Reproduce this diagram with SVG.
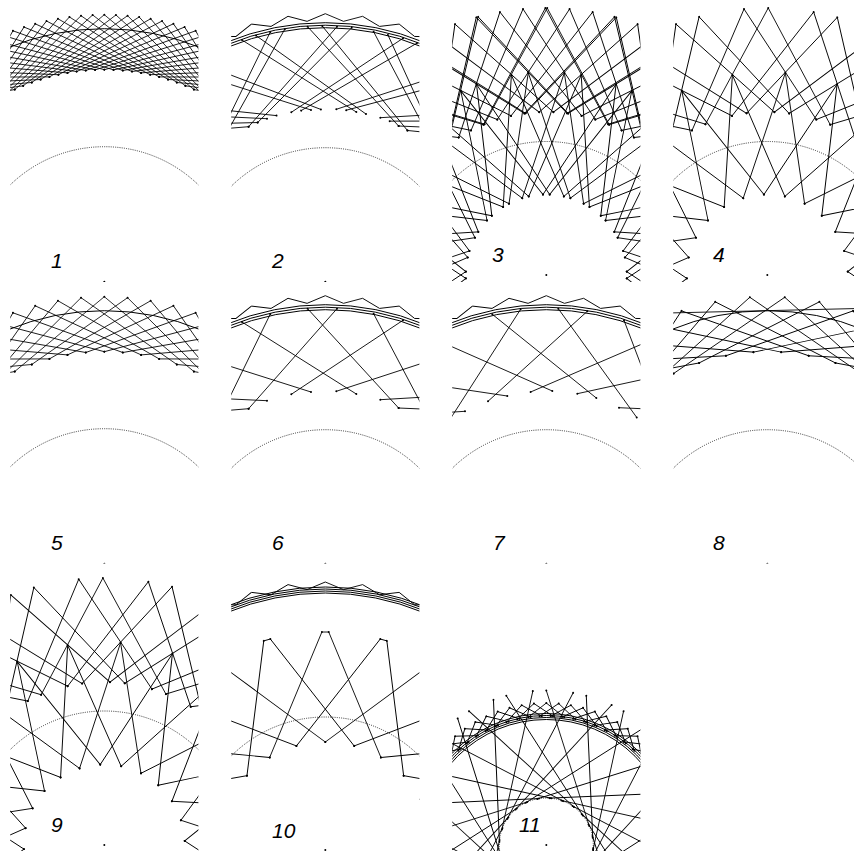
<svg xmlns="http://www.w3.org/2000/svg" width="854" height="851" viewBox="0 0 854 851">
<style>
.ln{fill:none;stroke:#000;stroke-width:0.9;stroke-linejoin:round}
.thin{stroke-width:0.8}
.mk{marker-start:url(#dot);marker-mid:url(#dot);marker-end:url(#dot)}
.band{fill:none;stroke:#000;stroke-width:1}
.dc{fill:none;stroke:#222;stroke-width:0.9;stroke-dasharray:1 1.2}
.lbl{font-family:"Liberation Sans",Arial,sans-serif;font-style:italic;font-size:21px;fill:#000}
.ctr{fill:#000}
</style>
<defs>
<marker id="dot" viewBox="-2 -2 4 4" markerWidth="4" markerHeight="4" markerUnits="userSpaceOnUse"><circle r="1" fill="#000"/></marker>
<clipPath id="c1"><rect x="10.2" y="0" width="188.2" height="282"/></clipPath>
<clipPath id="c2"><rect x="231.2" y="0" width="188.2" height="282"/></clipPath>
<clipPath id="c3"><rect x="452.2" y="0" width="188.2" height="282"/></clipPath>
<clipPath id="c4"><rect x="673.2" y="0" width="188.2" height="282"/></clipPath>
<clipPath id="c5"><rect x="10.2" y="282" width="188.2" height="281.5"/></clipPath>
<clipPath id="c6"><rect x="231.2" y="282" width="188.2" height="281.5"/></clipPath>
<clipPath id="c7"><rect x="452.2" y="282" width="188.2" height="281.5"/></clipPath>
<clipPath id="c8"><rect x="673.2" y="282" width="188.2" height="281.5"/></clipPath>
<clipPath id="c9"><rect x="10.2" y="563.5" width="188.2" height="288"/></clipPath>
<clipPath id="c10"><rect x="231.2" y="563.5" width="188.2" height="288"/></clipPath>
<clipPath id="c11"><rect x="452.2" y="563.5" width="188.2" height="288"/></clipPath>

<path id="uA" class="ln mk" d="M-62.38,-150.59L0,-267L62.38,-150.59"/>
<path id="uB" class="ln mk" d="M-30.81,-74.37L0,-203L30.81,-74.37"/>
<g id="star4">
<use href="#uA" transform="rotate(-65)"/><use href="#uA" transform="rotate(-59.8)"/>
<use href="#uA" transform="rotate(-50)"/><use href="#uA" transform="rotate(-44.8)"/>
<use href="#uA" transform="rotate(-35)"/><use href="#uA" transform="rotate(-29.8)"/>
<use href="#uA" transform="rotate(-20)"/><use href="#uA" transform="rotate(-14.8)"/>
<use href="#uA" transform="rotate(-5)"/><use href="#uA" transform="rotate(0.2)"/>
<use href="#uA" transform="rotate(10)"/><use href="#uA" transform="rotate(15.2)"/>
<use href="#uA" transform="rotate(25)"/><use href="#uA" transform="rotate(30.2)"/>
<use href="#uA" transform="rotate(40)"/><use href="#uA" transform="rotate(45.2)"/>
<use href="#uA" transform="rotate(55)"/><use href="#uA" transform="rotate(60.2)"/>
<use href="#uB" transform="rotate(-114.9)"/><use href="#uB" transform="rotate(-99.9)"/>
<use href="#uB" transform="rotate(-84.9)"/><use href="#uB" transform="rotate(-69.9)"/>
<use href="#uB" transform="rotate(-54.9)"/><use href="#uB" transform="rotate(-39.9)"/>
<use href="#uB" transform="rotate(-24.9)"/><use href="#uB" transform="rotate(-9.9)"/>
<use href="#uB" transform="rotate(5.1)"/><use href="#uB" transform="rotate(20.1)"/>
<use href="#uB" transform="rotate(35.1)"/><use href="#uB" transform="rotate(50.1)"/>
<use href="#uB" transform="rotate(65.1)"/><use href="#uB" transform="rotate(80.1)"/>
<use href="#uB" transform="rotate(95.1)"/><use href="#uB" transform="rotate(110.1)"/>
<use href="#uB" transform="rotate(125.1)"/>
</g>

<path id="v25" class="ln thin mk" d="M-89.6,-192.14L0,-267L89.6,-192.14"/>
<path id="v30" class="ln mk" d="M-106,-183.6L0,-267L106,-183.6"/>

<path id="zz" class="ln" d="M0,-268L18.21,-260.36L37.3,-265.39"/>
<g id="band">
<circle class="band" r="254"/><circle class="band" r="256.5"/><circle class="band" r="259"/>
<use href="#zz" transform="rotate(-40)"/><use href="#zz" transform="rotate(-32)"/><use href="#zz" transform="rotate(-24)"/>
<use href="#zz" transform="rotate(-16)"/><use href="#zz" transform="rotate(-8)"/><use href="#zz" transform="rotate(0)"/>
<use href="#zz" transform="rotate(8)"/><use href="#zz" transform="rotate(16)"/><use href="#zz" transform="rotate(24)"/>
<use href="#zz" transform="rotate(32)"/>
</g>

<path id="tr6" class="ln mk" d="M-55,-249.7L-113.9,-128.8M-17.7,-255L73.3,-155.7M11.7,-255L-76.7,-155M-83.3,-241.7L31,-169.7M77.7,-243.4L-34,-169.4M48.3,-250L110.6,-131.8M-14.3,-171.7L-141.5,-212.1M11,-172.4L138.5,-214.1M-58.3,-163L-190.7,-169.3M55,-164L188.4,-171.9M-76.7,-155L-210.5,-144M73.3,-155.7L206.3,-149.9"/>
<path id="tr7" class="ln mk" d="M-25.7,-254.4L-98.4,-141.1M-54,-249.4L50,-165.7M12,-255L90.4,-146.3M41,-252.4L-58.3,-162.4M77.7,-243.4L125.4,-117.7M6,-172.7L-116.6,-226.8M31,-170L160.5,-198.2M-15.7,-171.7L114.6,-227.8M-39,-167.7L-172.6,-187.7M-81.3,-152.4L-210.3,-144.2M72.7,-156L210,-150"/>

<path id="u10" class="ln mk" d="M-55.62,-92.57L-3.42,-217.97L3.42,-217.97L55.62,-92.57"/>

<path id="la" class="ln mk" d="M0,-154.5L42.94,-19.12"/>
<path id="lb" class="ln mk" d="M0,-154.5L-42.94,-19.12"/>
<path id="zz11" class="ln mk" d="M-17.95,-127.74L0,-142L17.95,-127.74"/>
</defs>

<g id="panel1" clip-path="url(#c1)">
<g transform="translate(104.3,281.7)">
<circle class="dc" r="135"/>
<use href="#v25" transform="rotate(-50)"/><use href="#v25" transform="rotate(-47.5)"/><use href="#v25" transform="rotate(-45)"/>
<use href="#v25" transform="rotate(-42.5)"/><use href="#v25" transform="rotate(-40)"/><use href="#v25" transform="rotate(-37.5)"/>
<use href="#v25" transform="rotate(-35)"/><use href="#v25" transform="rotate(-32.5)"/><use href="#v25" transform="rotate(-30)"/>
<use href="#v25" transform="rotate(-27.5)"/><use href="#v25" transform="rotate(-25)"/><use href="#v25" transform="rotate(-22.5)"/>
<use href="#v25" transform="rotate(-20)"/><use href="#v25" transform="rotate(-17.5)"/><use href="#v25" transform="rotate(-15)"/>
<use href="#v25" transform="rotate(-12.5)"/><use href="#v25" transform="rotate(-10)"/><use href="#v25" transform="rotate(-7.5)"/>
<use href="#v25" transform="rotate(-5)"/><use href="#v25" transform="rotate(-2.5)"/><use href="#v25" transform="rotate(0)"/>
<use href="#v25" transform="rotate(2.5)"/><use href="#v25" transform="rotate(5)"/><use href="#v25" transform="rotate(7.5)"/>
<use href="#v25" transform="rotate(10)"/><use href="#v25" transform="rotate(12.5)"/><use href="#v25" transform="rotate(15)"/>
<use href="#v25" transform="rotate(17.5)"/><use href="#v25" transform="rotate(20)"/><use href="#v25" transform="rotate(22.5)"/>
<use href="#v25" transform="rotate(25)"/><use href="#v25" transform="rotate(27.5)"/><use href="#v25" transform="rotate(30)"/>
<use href="#v25" transform="rotate(32.5)"/><use href="#v25" transform="rotate(35)"/><use href="#v25" transform="rotate(37.5)"/>
<use href="#v25" transform="rotate(40)"/><use href="#v25" transform="rotate(42.5)"/><use href="#v25" transform="rotate(45)"/>
<use href="#v25" transform="rotate(47.5)"/><use href="#v25" transform="rotate(50)"/>
<circle class="band" r="253" stroke-width="2.4"/>
<circle class="ctr" r="1"/>
</g>
</g>
<text class="lbl" x="51" y="268">1</text>

<g id="panel2" clip-path="url(#c2)">
<g transform="translate(325.3,281.7)">
<circle class="dc" r="134"/>
<use href="#band"/>
<use href="#tr6"/>
<use href="#tr6" transform="rotate(3.3)"/>
<circle class="ctr" r="1"/>
</g>
</g>
<text class="lbl" x="272" y="268">2</text>

<g id="panel3" clip-path="url(#c3)">
<g transform="translate(546.3,275)">
<circle class="dc" r="133.5"/>
<use href="#star4"/>
<use href="#star4" transform="rotate(4.8)"/>
<circle class="ctr" r="1"/>
</g>
</g>
<text class="lbl" x="492" y="262">3</text>

<g id="panel4" clip-path="url(#c4)">
<g transform="translate(767.3,275)">
<circle class="dc" r="133.5"/>
<use href="#star4"/>
<circle class="ctr" r="1"/>
</g>
</g>
<text class="lbl" x="713" y="262">4</text>

<g id="panel5" clip-path="url(#c5)">
<g transform="translate(104.3,563.7)">
<circle class="dc" r="135"/>
<use href="#v25" transform="rotate(-50)"/><use href="#v25" transform="rotate(-45)"/><use href="#v25" transform="rotate(-40)"/>
<use href="#v25" transform="rotate(-35)"/><use href="#v25" transform="rotate(-30)"/><use href="#v25" transform="rotate(-25)"/>
<use href="#v25" transform="rotate(-20)"/><use href="#v25" transform="rotate(-15)"/><use href="#v25" transform="rotate(-10)"/>
<use href="#v25" transform="rotate(-5)"/><use href="#v25" transform="rotate(0)"/><use href="#v25" transform="rotate(5)"/>
<use href="#v25" transform="rotate(10)"/><use href="#v25" transform="rotate(15)"/><use href="#v25" transform="rotate(20)"/>
<use href="#v25" transform="rotate(25)"/><use href="#v25" transform="rotate(30)"/><use href="#v25" transform="rotate(35)"/>
<use href="#v25" transform="rotate(40)"/><use href="#v25" transform="rotate(45)"/><use href="#v25" transform="rotate(50)"/>
<circle class="band" r="253" stroke-width="1.3"/>
<circle class="ctr" r="1"/>
</g>
</g>
<text class="lbl" x="51" y="550">5</text>

<g id="panel6" clip-path="url(#c6)">
<g transform="translate(325.3,563.7)">
<circle class="dc" r="134"/>
<use href="#band"/>
<use href="#tr6"/>
<circle class="ctr" r="1"/>
</g>
</g>
<text class="lbl" x="272" y="550">6</text>

<g id="panel7" clip-path="url(#c7)">
<g transform="translate(546.3,563.7)">
<circle class="dc" r="134"/>
<use href="#band"/>
<use href="#tr7"/>
<circle class="ctr" r="1"/>
</g>
</g>
<text class="lbl" x="493" y="550">7</text>

<g id="panel8" clip-path="url(#c8)">
<g transform="translate(767.3,563.7)">
<circle class="dc" r="134"/>
<use href="#v30" transform="rotate(-63.75)"/><use href="#v30" transform="rotate(-56.25)"/><use href="#v30" transform="rotate(-48.75)"/>
<use href="#v30" transform="rotate(-41.25)"/><use href="#v30" transform="rotate(-33.75)"/><use href="#v30" transform="rotate(-26.25)"/>
<use href="#v30" transform="rotate(-18.75)"/><use href="#v30" transform="rotate(-11.25)"/><use href="#v30" transform="rotate(-3.75)"/>
<use href="#v30" transform="rotate(3.75)"/><use href="#v30" transform="rotate(11.25)"/><use href="#v30" transform="rotate(18.75)"/>
<use href="#v30" transform="rotate(26.25)"/><use href="#v30" transform="rotate(33.75)"/><use href="#v30" transform="rotate(41.25)"/>
<use href="#v30" transform="rotate(48.75)"/><use href="#v30" transform="rotate(56.25)"/><use href="#v30" transform="rotate(63.75)"/>
<circle class="band" r="253" stroke-width="1.2"/>
<path class="ln" d="M-95,-250.8L95,-255.3"/>
<circle class="ctr" r="1"/>
</g>
</g>
<text class="lbl" x="713" y="550">8</text>

<g id="panel9" clip-path="url(#c9)">
<g transform="translate(104.3,845)">
<circle class="dc" r="134"/>
<use href="#star4" transform="rotate(-0.5)"/>
<circle class="ctr" r="1"/>
</g>
</g>
<text class="lbl" x="51" y="832">9</text>

<g id="panel10" clip-path="url(#c10)">
<g transform="translate(325.3,850)">
<circle class="dc" r="133"/>
<circle class="band" r="257"/><circle class="band" r="259"/><circle class="band" r="261"/><circle class="band" r="263"/>
<use href="#zz" transform="rotate(-40)"/><use href="#zz" transform="rotate(-32)"/><use href="#zz" transform="rotate(-24)"/>
<use href="#zz" transform="rotate(-16)"/><use href="#zz" transform="rotate(-8)"/><use href="#zz" transform="rotate(0)"/>
<use href="#zz" transform="rotate(8)"/><use href="#zz" transform="rotate(16)"/><use href="#zz" transform="rotate(24)"/>
<use href="#zz" transform="rotate(32)"/>
<use href="#u10" transform="rotate(-124)"/><use href="#u10" transform="rotate(-108.5)"/><use href="#u10" transform="rotate(-93)"/>
<use href="#u10" transform="rotate(-77.5)"/><use href="#u10" transform="rotate(-62)"/><use href="#u10" transform="rotate(-46.5)"/>
<use href="#u10" transform="rotate(-31)"/><use href="#u10" transform="rotate(-15.5)"/><use href="#u10" transform="rotate(0)"/>
<use href="#u10" transform="rotate(15.5)"/><use href="#u10" transform="rotate(31)"/><use href="#u10" transform="rotate(46.5)"/>
<use href="#u10" transform="rotate(62)"/><use href="#u10" transform="rotate(77.5)"/><use href="#u10" transform="rotate(93)"/>
<use href="#u10" transform="rotate(108.5)"/><use href="#u10" transform="rotate(124)"/>
<circle class="ctr" r="1"/>
</g>
</g>
<text class="lbl" x="272" y="838">10</text>

<g id="panel11" clip-path="url(#c11)">
<g transform="translate(546.3,845)">
<circle class="dc" r="47"/>
<circle class="band" r="125.5"/><circle class="band" r="127.5"/><circle class="band" r="129.5"/><circle class="band" r="131.5"/>
<use href="#zz11" transform="rotate(-50)"/><use href="#zz11" transform="rotate(-45)"/><use href="#zz11" transform="rotate(-40)"/>
<use href="#zz11" transform="rotate(-35)"/><use href="#zz11" transform="rotate(-30)"/><use href="#zz11" transform="rotate(-25)"/>
<use href="#zz11" transform="rotate(-20)"/><use href="#zz11" transform="rotate(-15)"/><use href="#zz11" transform="rotate(-10)"/>
<use href="#zz11" transform="rotate(-5)"/><use href="#zz11" transform="rotate(0)"/><use href="#zz11" transform="rotate(5)"/>
<use href="#zz11" transform="rotate(10)"/><use href="#zz11" transform="rotate(15)"/><use href="#zz11" transform="rotate(20)"/>
<use href="#zz11" transform="rotate(25)"/><use href="#zz11" transform="rotate(30)"/><use href="#zz11" transform="rotate(35)"/>
<use href="#zz11" transform="rotate(40)"/><use href="#zz11" transform="rotate(45)"/><use href="#zz11" transform="rotate(50)"/>
<use href="#la" transform="rotate(0)"/><use href="#la" transform="rotate(15)"/><use href="#la" transform="rotate(30)"/>
<use href="#la" transform="rotate(45)"/><use href="#la" transform="rotate(60)"/><use href="#la" transform="rotate(75)"/>
<use href="#la" transform="rotate(90)"/><use href="#la" transform="rotate(105)"/><use href="#la" transform="rotate(120)"/>
<use href="#la" transform="rotate(135)"/><use href="#la" transform="rotate(150)"/><use href="#la" transform="rotate(165)"/>
<use href="#la" transform="rotate(180)"/><use href="#la" transform="rotate(195)"/><use href="#la" transform="rotate(210)"/>
<use href="#la" transform="rotate(225)"/><use href="#la" transform="rotate(240)"/><use href="#la" transform="rotate(255)"/>
<use href="#la" transform="rotate(270)"/><use href="#la" transform="rotate(285)"/><use href="#la" transform="rotate(300)"/>
<use href="#la" transform="rotate(315)"/><use href="#la" transform="rotate(330)"/><use href="#la" transform="rotate(345)"/>
<use href="#lb" transform="rotate(-5)"/><use href="#lb" transform="rotate(10)"/><use href="#lb" transform="rotate(25)"/>
<use href="#lb" transform="rotate(40)"/><use href="#lb" transform="rotate(55)"/><use href="#lb" transform="rotate(70)"/>
<use href="#lb" transform="rotate(85)"/><use href="#lb" transform="rotate(100)"/><use href="#lb" transform="rotate(115)"/>
<use href="#lb" transform="rotate(130)"/><use href="#lb" transform="rotate(145)"/><use href="#lb" transform="rotate(160)"/>
<use href="#lb" transform="rotate(175)"/><use href="#lb" transform="rotate(190)"/><use href="#lb" transform="rotate(205)"/>
<use href="#lb" transform="rotate(220)"/><use href="#lb" transform="rotate(235)"/><use href="#lb" transform="rotate(250)"/>
<use href="#lb" transform="rotate(265)"/><use href="#lb" transform="rotate(280)"/><use href="#lb" transform="rotate(295)"/>
<use href="#lb" transform="rotate(310)"/><use href="#lb" transform="rotate(325)"/><use href="#lb" transform="rotate(340)"/>
<circle class="ctr" r="1"/>
</g>
</g>
<text class="lbl" x="519" y="832">11</text>
</svg>
